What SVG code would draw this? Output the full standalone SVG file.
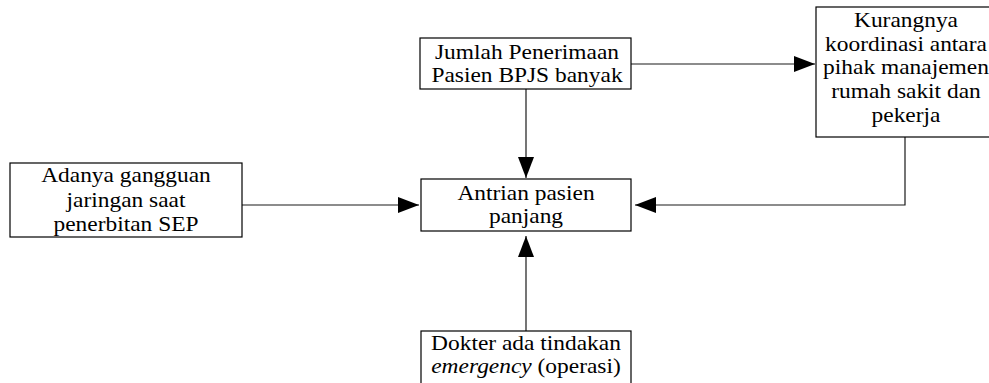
<svg xmlns="http://www.w3.org/2000/svg" width="989" height="383" viewBox="0 0 989 383">
  <defs>
    <style>
      .box { fill: #ffffff; stroke: #000000; stroke-width: 1.2; }
      .lbl { font-family: 'Liberation Serif', 'Times New Roman', 'DejaVu Serif', serif; font-size: 21px; fill: #000000; text-anchor: middle; }
      .edge { fill: none; stroke: #1a1a1a; stroke-width: 1.2; }
    </style>
    <marker id="arrow" markerUnits="userSpaceOnUse" markerWidth="22" markerHeight="16" refX="21" refY="8" orient="auto">
      <path d="M0,0 L21,8 L0,16 Z" fill="#000000"/>
    </marker>
  </defs>
  <rect width="989" height="383" fill="#ffffff"/>

  <!-- connectors -->
  <g id="connectors">
    <line class="edge" x1="631" y1="64" x2="815" y2="64" marker-end="url(#arrow)"/>
    <line class="edge" x1="526" y1="89" x2="526" y2="178" marker-end="url(#arrow)"/>
    <line class="edge" x1="242" y1="205" x2="419" y2="205" marker-end="url(#arrow)"/>
    <polyline class="edge" points="905,137 905,205 635,205" marker-end="url(#arrow)"/>
    <line class="edge" x1="526" y1="331" x2="526" y2="236" marker-end="url(#arrow)"/>
  </g>

  <g id="jumlah">
    <rect class="box" x="420" y="38" width="211" height="51"/>
    <g transform="translate(527,0) scale(1.115,1)">
      <text class="lbl" x="0" y="59">Jumlah Penerimaan</text>
      <text class="lbl" x="0" y="82">Pasien BPJS banyak</text>
    </g>
  </g>

  <g id="kurangnya">
    <rect class="box" x="816" y="7" width="185" height="130"/>
    <g transform="translate(906,0) scale(1.115,1)">
      <text class="lbl" x="0" y="27">Kurangnya</text>
      <text class="lbl" x="0" y="51">koordinasi antara</text>
      <text class="lbl" x="0" y="74">pihak manajemen</text>
      <text class="lbl" x="0" y="98">rumah sakit dan</text>
      <text class="lbl" x="0" y="122">pekerja</text>
    </g>
  </g>

  <g id="adanya">
    <rect class="box" x="10" y="163" width="232" height="74"/>
    <g transform="translate(126,0) scale(1.115,1)">
      <text class="lbl" x="0" y="182">Adanya gangguan</text>
      <text class="lbl" x="0" y="207">jaringan saat</text>
      <text class="lbl" x="0" y="231">penerbitan SEP</text>
    </g>
  </g>

  <g id="antrian">
    <rect class="box" x="421" y="179" width="210" height="52"/>
    <g transform="translate(526,0) scale(1.115,1)">
      <text class="lbl" x="0" y="200">Antrian pasien</text>
      <text class="lbl" x="0" y="223">panjang</text>
    </g>
  </g>

  <g id="dokter">
    <rect class="box" x="421" y="331" width="210" height="60"/>
    <g transform="translate(526,0) scale(1.115,1)">
      <text class="lbl" x="0" y="350">Dokter ada tindakan</text>
      <text class="lbl" x="0" y="373"><tspan font-style="italic">emergency</tspan> (operasi)</text>
    </g>
  </g>
</svg>
